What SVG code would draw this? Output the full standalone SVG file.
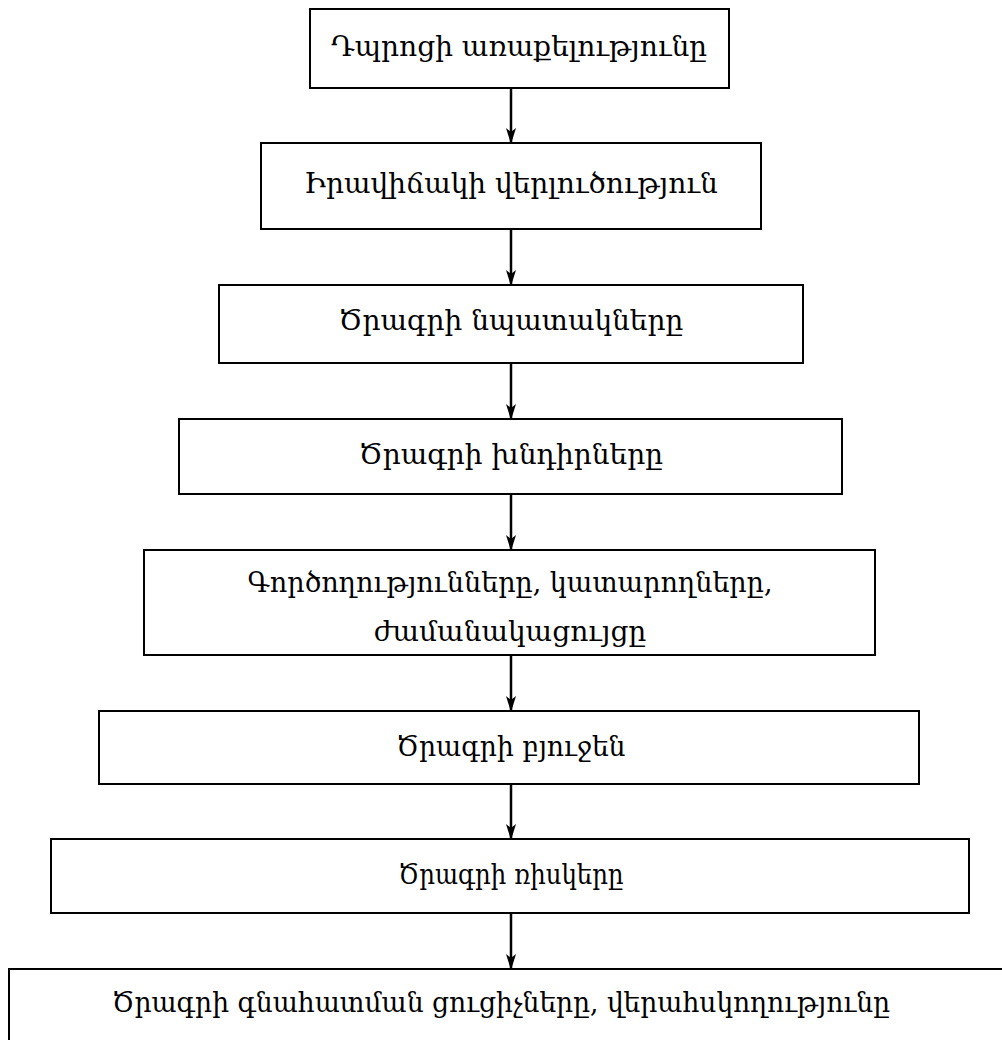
<svg xmlns="http://www.w3.org/2000/svg" width="1002" height="1040" viewBox="0 0 1002 1040">
<style>
.box{fill:#fff;stroke:#000;stroke-width:2}
.t{font-family:"DejaVu Serif","Liberation Serif",serif;font-size:28px;fill:#000;text-anchor:middle}
.c{stroke:#000;stroke-width:2.5;fill:none;marker-end:url(#ah)}
</style>
<defs>
<marker id="ah" markerWidth="16" markerHeight="10" refX="15" refY="5" orient="auto" markerUnits="userSpaceOnUse" viewBox="0 0 16 10">
<path d="M0,0 L16,5 L0,10 L4,5 Z" fill="#000"/>
</marker>
</defs>
<rect width="1002" height="1040" fill="#fff"/>
<g id="connectors">
<line class="c" x1="511" y1="88" x2="511" y2="143"/>
<line class="c" x1="511" y1="229" x2="511" y2="285"/>
<line class="c" x1="511" y1="363" x2="511" y2="419"/>
<line class="c" x1="511" y1="494" x2="511" y2="550"/>
<line class="c" x1="511" y1="655" x2="511" y2="711"/>
<line class="c" x1="511" y1="784" x2="511" y2="839"/>
<line class="c" x1="511" y1="913" x2="511" y2="969"/>
</g>
<g id="n1"><rect class="box" x="310" y="9" width="419" height="79"/><text class="t" x="519" y="56">Դպրոցի առաքելությունը</text></g>
<g id="n2"><rect class="box" x="261" y="143" width="500" height="86"/><text class="t" x="511" y="193">Իրավիճակի վերլուծություն</text></g>
<g id="n3"><rect class="box" x="219" y="285" width="584" height="78"/><text class="t" x="511" y="330">Ծրագրի նպատակները</text></g>
<g id="n4"><rect class="box" x="179" y="419" width="663" height="75"/><text class="t" x="511" y="464">Ծրագրի խնդիրները</text></g>
<g id="n5"><rect class="box" x="144" y="550" width="731" height="105"/><text class="t" x="510" y="592" textLength="525" lengthAdjust="spacingAndGlyphs">Գործողությունները, կատարողները,</text><text class="t" x="510" y="641">ժամանակացույցը</text></g>
<g id="n6"><rect class="box" x="99" y="711" width="820" height="73"/><text class="t" x="511" y="756" textLength="229" lengthAdjust="spacingAndGlyphs">Ծրագրի բյուջեն</text></g>
<g id="n7"><rect class="box" x="51" y="839" width="918" height="74"/><text class="t" x="511" y="884" textLength="225" lengthAdjust="spacingAndGlyphs">Ծրագրի ռիսկերը</text></g>
<g id="n8"><rect class="box" x="9" y="969" width="1000" height="90"/><text class="t" x="501" y="1012" textLength="778" lengthAdjust="spacingAndGlyphs">Ծրագրի գնահատման ցուցիչները, վերահսկողությունը</text></g>
</svg>
